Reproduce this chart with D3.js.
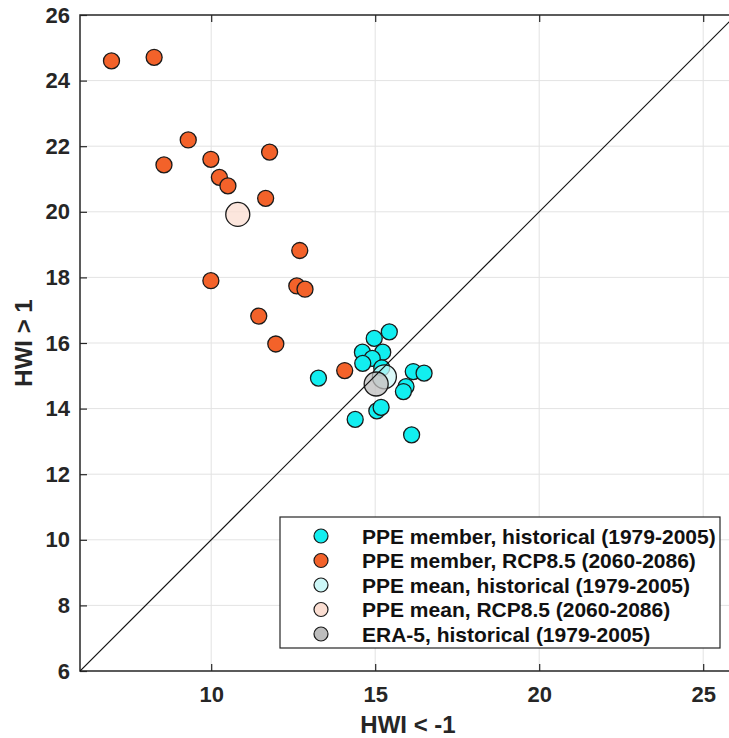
<!DOCTYPE html>
<html>
<head>
<meta charset="utf-8">
<script src="https://cdn.jsdelivr.net/npm/d3@7/dist/d3.min.js"></script>
<style>
  html, body { margin: 0; padding: 0; background: #fff; }
  svg { display: block; font-family: "Liberation Sans", Arial, Helvetica, sans-serif; }
</style>
</head>
<body>
<svg id="chart" width="729" height="738"></svg>
<script>
// Heatwave index frequencies: PPE members and means, historical vs RCP8.5
const histX = [15.43, 14.97, 14.61, 15.23, 14.91, 14.62, 15.20, 16.16, 16.49, 15.94, 15.86, 14.39, 15.05, 15.18, 16.11, 13.27];
const histY = [16.34, 16.14, 15.72, 15.72, 15.53, 15.38, 15.24, 15.13, 15.08, 14.67, 14.52, 13.67, 13.93, 14.04, 13.20, 14.93];
const rcpX = [6.96, 8.26, 8.56, 9.30, 9.99, 10.25, 10.51, 11.78, 11.66, 12.70, 9.99, 12.61, 12.86, 11.45, 11.97, 14.07];
const rcpY = [24.60, 24.71, 21.43, 22.19, 21.60, 21.05, 20.79, 21.82, 20.41, 18.82, 17.90, 17.74, 17.64, 16.82, 15.97, 15.16];
const histMean = [15.28, 14.97];
const rcpMean = [10.81, 19.92];
const era5 = [15.03, 14.75];

const xTicks = [10, 15, 20, 25];
const yTicks = [6, 8, 10, 12, 14, 16, 18, 20, 22, 24, 26];
const legendLabels = [
  "PPE member, historical (1979-2005)",
  "PPE member, RCP8.5 (2060-2086)",
  "PPE mean, historical (1979-2005)",
  "PPE mean, RCP8.5 (2060-2086)",
  "ERA-5, historical (1979-2005)"
];

const colHist = "#12eef0", colRcp = "#f3622a", colHistMean = "#cdf7f7", colRcpMean = "#fbded2", colEra = "#bdbdbd";
const ink = "#262626";

const svg = d3.select("#chart");
const x = d3.scaleLinear().domain([6, 26]).range([80, 736]);
const y = d3.scaleLinear().domain([6, 26]).range([671, 15]);

svg.append("defs").append("clipPath").attr("id", "plotclip")
  .append("rect").attr("x", x(6)).attr("y", y(26)).attr("width", x(26) - x(6)).attr("height", y(6) - y(26));

// grid
const grid = svg.append("g").attr("stroke", "#e3e3e3").attr("stroke-width", 1);
grid.selectAll("line.vx").data(xTicks).join("line")
  .attr("x1", d => x(d)).attr("x2", d => x(d)).attr("y1", y(6)).attr("y2", y(26));
grid.selectAll("line.hy").data(yTicks.filter(d => d > 6 && d < 26)).join("line")
  .attr("x1", x(6)).attr("x2", x(26)).attr("y1", d => y(d)).attr("y2", d => y(d));

// axes
const styleAxis = g => {
  g.select(".domain").remove();
  g.selectAll(".tick line").attr("stroke", ink).attr("stroke-width", 1.2);
  g.selectAll(".tick text").attr("fill", ink).attr("font-size", 22).attr("font-weight", "bold");
};
svg.append("g").attr("transform", `translate(0,${y(6)})`)
  .call(d3.axisBottom(x).tickValues(xTicks).tickSizeInner(-7).tickSizeOuter(0).tickPadding(15).tickFormat(d3.format("d")))
  .call(styleAxis);
svg.append("g").attr("transform", `translate(0,${y(26)})`)
  .call(d3.axisTop(x).tickValues(xTicks).tickSizeInner(-7).tickSizeOuter(0).tickFormat(""))
  .call(styleAxis);
svg.append("g").attr("transform", `translate(${x(6)},0)`)
  .call(d3.axisLeft(y).tickValues(yTicks).tickSizeInner(-7).tickSizeOuter(0).tickPadding(10).tickFormat(d3.format("d")))
  .call(styleAxis);

// frame
const frame = svg.append("g").attr("stroke", ink).attr("stroke-width", 1.5).attr("fill", "none");
frame.append("path").attr("d", `M${x(26)},${y(26)}H${x(6)}V${y(6)}H${x(26)}V${y(26)}`);

// axis titles
svg.append("text").attr("x", (x(6) + x(26)) / 2).attr("y", 733).attr("text-anchor", "middle")
  .attr("font-size", 24).attr("font-weight", "bold").attr("fill", ink).text("HWI < -1");
svg.append("text").attr("transform", `translate(32,${(y(6) + y(26)) / 2}) rotate(-90)`).attr("text-anchor", "middle")
  .attr("font-size", 24).attr("font-weight", "bold").attr("fill", ink).text("HWI > 1");

const plot = svg.append("g").attr("clip-path", "url(#plotclip)");

// member points
const members = (xs, ys, col) => plot.append("g").selectAll("circle").data(xs.map((v, i) => [v, ys[i]])).join("circle")
  .attr("cx", d => x(d[0])).attr("cy", d => y(d[1])).attr("r", 8)
  .attr("fill", col).attr("stroke", "#1a1a1a").attr("stroke-width", 1.3);
members(histX, histY, colHist);
members(rcpX, rcpY, colRcp);

// means and reanalysis
const big = (p, col) => plot.append("circle").attr("cx", x(p[0])).attr("cy", y(p[1])).attr("r", 12)
  .attr("fill", col).attr("fill-opacity", 0.75).attr("stroke", "#1a1a1a").attr("stroke-width", 1.3);
big(histMean, colHistMean);
big(rcpMean, colRcpMean);
big(era5, colEra);

// 1:1 line
plot.append("line").attr("x1", x(6)).attr("y1", y(6)).attr("x2", x(26)).attr("y2", y(26))
  .attr("stroke", "#111").attr("stroke-width", 1.2);

// legend
const leg = svg.append("g");
leg.append("rect").attr("x", 280).attr("y", 517).attr("width", 440).attr("height", 131)
  .attr("fill", "#fff").attr("stroke", ink).attr("stroke-width", 1.2);
const legCols = [colHist, colRcp, colHistMean, colRcpMean, colEra];
const rows = leg.selectAll("g.row").data(legendLabels).join("g")
  .attr("transform", (d, i) => `translate(0,${536 + i * 24.5})`);
rows.append("circle").attr("cx", 321).attr("cy", 0).attr("r", 7)
  .attr("fill", (d, i) => legCols[i]).attr("stroke", "#1a1a1a").attr("stroke-width", 1.2);
rows.append("text").attr("x", 362).attr("y", 0).attr("dy", "0.36em")
  .attr("font-size", 21).attr("font-weight", "bold").attr("fill", "#111").text(d => d);
</script>
</body>
</html>
